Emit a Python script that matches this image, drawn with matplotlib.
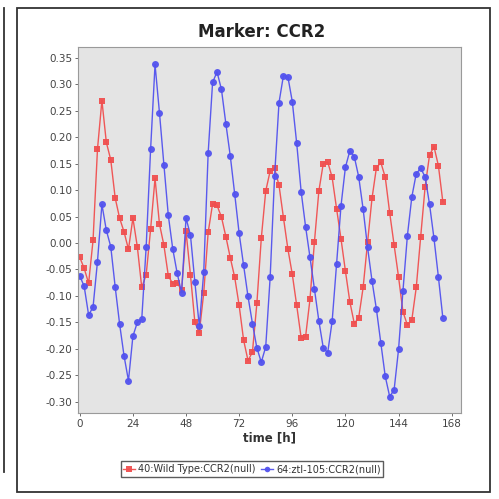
"""Marker: CCR2 time course, wild type vs ztl-105."""

import matplotlib
matplotlib.use("Agg")
import matplotlib.pyplot as plt
from matplotlib.patches import Rectangle
from matplotlib.lines import Line2D

# sampling times (h), every 2 h
time_h = list(range(0, 166, 2))

wild_type = [
    -0.027, -0.048, -0.076, 0.005, 0.177, 0.269, 0.190, 0.157, 0.085, 0.047,
    0.021, -0.012, 0.047, -0.007, -0.084, -0.060, 0.026, 0.122, 0.036, -0.004,
    -0.062, -0.077, -0.075, -0.089, 0.022, -0.060, -0.150, -0.169, -0.094, 0.020,
    0.074, 0.071, 0.049, 0.012, -0.028, -0.065, -0.118, -0.183, -0.222, -0.206,
    -0.114, 0.009, 0.098, 0.136, 0.141, 0.109, 0.048, -0.011, -0.059, -0.118,
    -0.179, -0.177, -0.106, 0.002, 0.098, 0.150, 0.153, 0.124, 0.065, 0.008,
    -0.053, -0.111, -0.152, -0.141, -0.084, 0.001, 0.084, 0.142, 0.152, 0.124,
    0.057, -0.004, -0.064, -0.130, -0.155, -0.145, -0.084, 0.012, 0.106, 0.166,
    0.182, 0.146, 0.078,
]

ztl_105 = [
    -0.062, -0.082, -0.136, -0.121, -0.035, 0.073, 0.024, -0.007, -0.083, -0.153,
    -0.213, -0.260, -0.176, -0.150, -0.144, -0.007, 0.177, 0.337, 0.246, 0.148,
    0.052, -0.011, -0.057, -0.094, 0.047, 0.015, -0.074, -0.157, -0.055, 0.170,
    0.303, 0.323, 0.290, 0.225, 0.164, 0.092, 0.018, -0.042, -0.101, -0.152,
    -0.198, -0.225, -0.196, -0.065, 0.126, 0.265, 0.316, 0.314, 0.267, 0.188,
    0.097, 0.031, -0.027, -0.087, -0.147, -0.198, -0.207, -0.148, -0.040, 0.070,
    0.143, 0.174, 0.163, 0.125, 0.064, -0.008, -0.071, -0.125, -0.189, -0.252,
    -0.290, -0.277, -0.201, -0.090, 0.014, 0.087, 0.131, 0.141, 0.125, 0.073,
    0.009, -0.064, -0.141,
]

labels = ["40:Wild Type:CCR2(null)", "64:ztl-105:CCR2(null)"]
x_ticks = list(range(0, 169, 24))
y_ticks = [round(-0.30 + 0.05 * i, 2) for i in range(14)]

RED = "#f04f4f"
BLUE = "#5252ee"

fig = plt.figure(figsize=(4.99, 4.99), dpi=100)

# outer panel frame and the edge of the neighbouring panel
fig.patches.append(Rectangle((0.034, 0.014), 0.948, 0.970, transform=fig.transFigure,
                             fill=False, edgecolor="#333333", linewidth=1.3))
fig.lines.append(Line2D([0.008, 0.008], [0.055, 0.984], transform=fig.transFigure,
                        color="#333333", linewidth=1.3))

ax = fig.add_axes([0.1563, 0.1723, 0.7675, 0.7335])
ax.set_facecolor("#e4e4e4")
for s in ax.spines.values():
    s.set_color("#9a9a9a")
    s.set_linewidth(0.8)

ax.plot(time_h, wild_type, color=RED, linewidth=1.0, marker="s", markersize=5,
        markeredgewidth=0, label=labels[0], alpha=0.95)
ax.plot(time_h, ztl_105, color=BLUE, linewidth=1.0, marker="o", markersize=5,
        markeredgewidth=0, label=labels[1], alpha=0.95)

ax.set_xlim(-0.8, 172.2)
ax.set_ylim(-0.321, 0.370)
ax.set_xticks(x_ticks)
ax.set_yticks(y_ticks)
ax.set_yticklabels([f"{v:.2f}" for v in y_ticks])
ax.tick_params(labelsize=7.5, colors="#555555", length=2, width=0.6, pad=2)
for lab in ax.get_xticklabels() + ax.get_yticklabels():
    lab.set_color("#444444")

ax.set_xlabel("time [h]", fontsize=8.5, fontweight="bold", color="#333333", labelpad=2)
fig.text(0.525, 0.936, "Marker: CCR2", ha="center", va="center",
         fontsize=12, fontweight="bold", color="#222222")

leg = fig.legend(loc="center", bbox_to_anchor=(0.505, 0.06), ncol=2, fontsize=7,
                 frameon=True, fancybox=False, handlelength=1.2, handletextpad=0.3,
                 columnspacing=0.6, borderpad=0.3, markerscale=0.8)
leg.get_frame().set_edgecolor("#333333")
leg.get_frame().set_linewidth(1.0)
for t in leg.get_texts():
    t.set_color("#333333")

fig.savefig("out.png", dpi=100)
